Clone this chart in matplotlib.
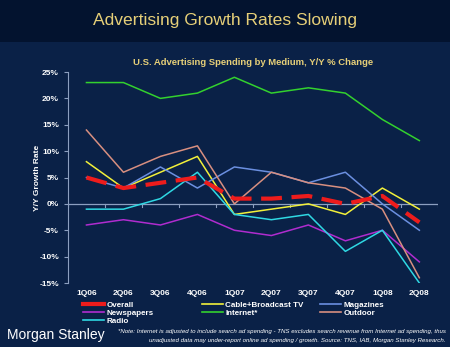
import matplotlib.pyplot as plt
from matplotlib.lines import Line2D

plt.rcParams['font.family'] = ['Liberation Sans', 'DejaVu Sans']

quarters = ['1Q06', '2Q06', '3Q06', '4Q06', '1Q07', '2Q07', '3Q07', '4Q07', '1Q08', '2Q08']
overall = [5, 3, 4, 5, 1, 1, 1.5, 0, 1.5, -3.5]
cable_tv = [8, 3, 6, 9, -2, -1, 0, -2, 3, -1]
magazines = [5, 3, 7, 3, 7, 6, 4, 6, 0, -5]
newspapers = [-4, -3, -4, -2, -5, -6, -4, -7, -5, -11]
internet = [23, 23, 20, 21, 24, 21, 22, 21, 16, 12]
outdoor = [14, 6, 9, 11, 0, 6, 4, 3, -1, -14]
radio = [-1, -1, 1, 6, -2, -3, -2, -9, -5, -15]

bg_top = '#03132f'
bg_main = '#0a2147'
axis_col = '#8c9fc0'

fig = plt.figure(figsize=(4.5, 3.47), dpi=100)
fig.patch.set_facecolor(bg_main)
# darker title banner
fig.add_artist(plt.Rectangle((0, 0.878), 1, 0.122, transform=fig.transFigure,
                             facecolor=bg_top, edgecolor='none', zorder=0))
fig.text(0.5, 0.94, 'Advertising Growth Rates Slowing', ha='center', va='center',
         color='#e6cf78', fontsize=12.6)

ax = fig.add_axes([0.151, 0.1844, 0.822, 0.6081])
ax.set_facecolor(bg_main)
x = list(range(len(quarters)))

series = [
    (cable_tv, '#f2f03a', 'Cable+Broadcast TV'),
    (magazines, '#6b8fe0', 'Magazines'),
    (newspapers, '#b02ccf', 'Newspapers'),
    (internet, '#33d12e', 'Internet*'),
    (outdoor, '#d88f80', 'Outdoor'),
    (radio, '#2fd8e3', 'Radio'),
]
lines = {}
for vals, col, name in series:
    lines[name], = ax.plot(x, vals, color=col, lw=1.1, zorder=3)
lines['Overall'], = ax.plot(x, overall, color='#ee1c1c', lw=3.0, ls=(0, (5, 2.3)),
                            zorder=4)

ax.set_xlim(-0.5, len(quarters) - 0.5)
ax.set_ylim(-15, 25)
ax.set_yticks(range(-15, 30, 5))
ax.set_yticklabels([f'{v}%' for v in range(-15, 30, 5)])
for s in ['top', 'right', 'bottom']:
    ax.spines[s].set_visible(False)
ax.spines['left'].set_color(axis_col)
ax.axhline(0, color=axis_col, lw=0.9, zorder=2)
for b in range(len(quarters) + 1):
    ax.plot([b - 0.5, b - 0.5], [0, -0.5], color=axis_col, lw=0.8, zorder=2)
ax.set_xticks(x)
ax.set_xticklabels(quarters)
ax.tick_params(axis='x', length=0, pad=5, labelsize=6)
ax.tick_params(axis='y', color=axis_col, length=3, labelsize=6)
for lab in ax.get_xticklabels() + ax.get_yticklabels():
    lab.set_fontweight('bold')
    lab.set_color('white')
ax.set_ylabel('Y/Y Growth Rate', color='white', fontsize=6, fontweight='bold', labelpad=-1.5)
ax.set_title('U.S. Advertising Spending by Medium, Y/Y % Change', color='#e6cf78',
             fontsize=6.8, fontweight='bold', pad=5)

# legend: three columns placed separately
columns = [(['Overall', 'Newspapers', 'Radio'], 0.184),
           (['Cable+Broadcast TV', 'Internet*'], 0.449),
           (['Magazines', 'Outdoor'], 0.711)]
for names, x0 in columns:
    handles = [Line2D([], [], color=lines[n].get_color(), lw=3 if n == 'Overall' else 1.2)
               for n in names]
    leg = fig.legend(handles, names, loc='upper left', bbox_to_anchor=(x0, 0.131),
                     frameon=False, fontsize=5.8, handlelength=2.6, handletextpad=0.3,
                     labelspacing=0.05, borderaxespad=0, borderpad=0)
    for t in leg.get_texts():
        t.set_color('white')
        t.set_fontweight('bold')

fig.text(0.015, 0.034, 'Morgan Stanley', color='white', fontsize=10, va='center')
fig.text(0.99, 0.045, '*Note: Internet is adjusted to include search ad spending - TNS excludes search '
         'revenue from Internet ad spending, thus', ha='right', va='center', color='white',
         fontsize=4.4, style='italic')
fig.text(0.99, 0.018, 'unadjusted data may under-report online ad spending / growth. Source: '
         'TNS, IAB, Morgan Stanley Research.', ha='right', va='center', color='white',
         fontsize=4.4, style='italic')

fig.savefig('out.png', dpi=100, facecolor=fig.get_facecolor())
